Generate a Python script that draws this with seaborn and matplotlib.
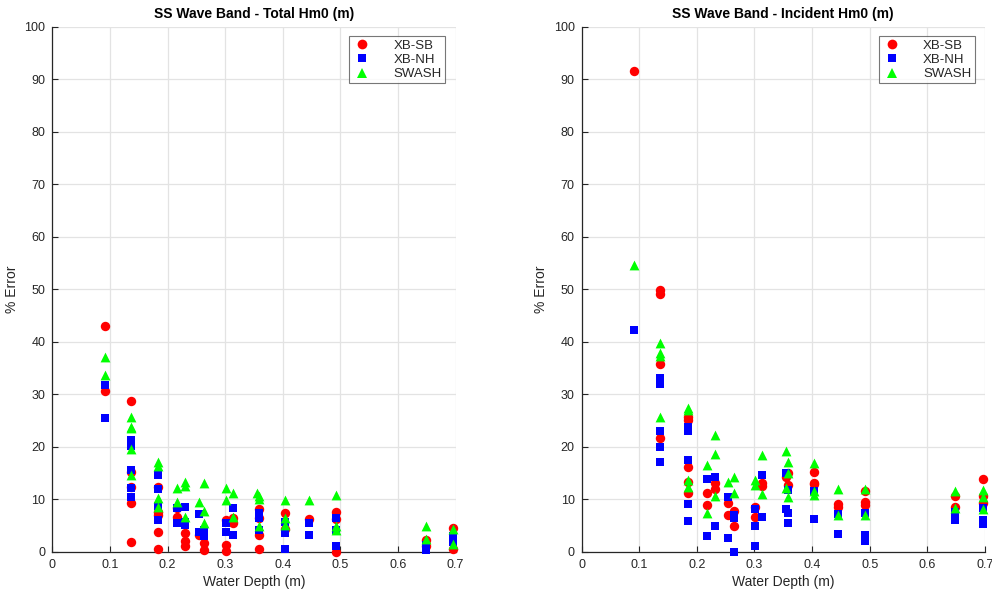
import numpy as np
import pandas as pd
import matplotlib
matplotlib.use("Agg")
import matplotlib.pyplot as plt
from matplotlib.ticker import FormatStrFormatter
from matplotlib.lines import Line2D
import seaborn as sns

# ---------------- data ----------------
series_names = ["XB-SB", "XB-NH", "SWASH"]
panel_titles = ["SS Wave Band - Total Hm0 (m)", "SS Wave Band - Incident Hm0 (m)"]

# Total Hm0
tot_sb_x = [0.091, 0.091, 0.137, 0.137, 0.137, 0.137, 0.137, 0.184, 0.184, 0.184, 0.184, 0.184,
            0.217, 0.217, 0.231, 0.231, 0.231, 0.254, 0.264, 0.264, 0.301, 0.301, 0.301,
            0.313, 0.313, 0.359, 0.359, 0.359, 0.359, 0.403, 0.403, 0.445, 0.492, 0.492, 0.492,
            0.648, 0.648, 0.696, 0.696]
tot_sb_y = [42.9, 30.7, 28.7, 15.1, 12.3, 9.3, 1.8, 12.4, 7.6, 7.0, 3.7, 0.5,
            8.3, 6.7, 3.6, 2.0, 1.0, 3.2, 1.7, 0.3, 6.0, 1.3, 0.2,
            6.4, 5.5, 8.1, 6.4, 3.2, 0.6, 7.3, 4.3, 6.2, 7.6, 6.2, 0.0,
            2.2, 1.1, 4.5, 0.5]
tot_nh_x = [0.091, 0.091, 0.137, 0.137, 0.137, 0.137, 0.137, 0.184, 0.184, 0.184, 0.184,
            0.217, 0.217, 0.231, 0.231, 0.231, 0.254, 0.254, 0.264, 0.264, 0.301, 0.301,
            0.313, 0.313, 0.359, 0.359, 0.359, 0.403, 0.403, 0.403, 0.445, 0.445,
            0.492, 0.492, 0.492, 0.648, 0.648, 0.696, 0.696]
tot_nh_y = [31.8, 25.5, 21.3, 20.2, 15.6, 12.2, 10.5, 14.7, 11.9, 8.7, 6.0,
            8.3, 5.5, 8.6, 5.7, 5.1, 7.1, 3.7, 4.1, 2.9, 5.5, 3.7,
            8.4, 3.2, 7.4, 6.4, 4.1, 5.7, 3.6, 0.6, 5.4, 3.2,
            6.5, 4.1, 1.0, 1.3, 0.3, 2.9, 1.9]
tot_sw_x = [0.091, 0.091, 0.137, 0.137, 0.137, 0.137, 0.137, 0.184, 0.184, 0.184, 0.184,
            0.217, 0.217, 0.231, 0.231, 0.231, 0.254, 0.264, 0.264, 0.264, 0.301, 0.301,
            0.313, 0.313, 0.355, 0.359, 0.359, 0.359, 0.403, 0.403, 0.403, 0.445,
            0.492, 0.492, 0.492, 0.648, 0.648, 0.696, 0.696]
tot_sw_y = [37.0, 33.7, 25.7, 23.8, 23.5, 19.5, 14.6, 17.0, 16.4, 10.2, 8.6,
            12.2, 9.5, 13.3, 12.6, 6.7, 9.5, 13.0, 7.8, 5.5, 12.1, 9.8,
            11.2, 6.7, 11.1, 10.6, 10.0, 4.8, 9.8, 6.4, 5.0, 9.8,
            10.8, 4.8, 4.1, 4.8, 2.4, 4.3, 1.5]

# Incident Hm0
inc_sb_x = [0.091, 0.137, 0.137, 0.137, 0.137, 0.184, 0.184, 0.184, 0.184, 0.184,
            0.217, 0.217, 0.231, 0.231, 0.254, 0.254, 0.264, 0.264, 0.301, 0.301,
            0.313, 0.313, 0.355, 0.359, 0.359, 0.403, 0.403, 0.403, 0.445, 0.445,
            0.492, 0.492, 0.492, 0.648, 0.648, 0.696, 0.696, 0.696]
inc_sb_y = [91.6, 49.8, 49.0, 35.7, 21.6, 25.6, 25.1, 16.2, 13.3, 11.2,
            11.2, 8.9, 13.0, 11.9, 9.2, 6.9, 7.8, 4.8, 8.6, 6.7,
            13.1, 12.5, 14.2, 15.0, 12.7, 15.2, 13.1, 12.9, 9.1, 8.6,
            11.6, 9.5, 8.9, 10.6, 8.5, 13.8, 10.6, 9.2]
inc_nh_x = [0.091, 0.137, 0.137, 0.137, 0.137, 0.137, 0.184, 0.184, 0.184, 0.184, 0.184,
            0.217, 0.217, 0.231, 0.231, 0.254, 0.254, 0.264, 0.264, 0.264,
            0.301, 0.301, 0.301, 0.313, 0.313, 0.355, 0.355, 0.359, 0.359, 0.359,
            0.403, 0.403, 0.445, 0.445, 0.492, 0.492, 0.492, 0.648, 0.648,
            0.696, 0.696, 0.696]
inc_nh_y = [42.2, 33.0, 31.9, 22.9, 20.0, 17.0, 23.8, 22.9, 17.5, 9.0, 5.9,
            13.8, 3.0, 14.3, 4.9, 10.5, 2.7, 6.9, 6.5, 0.0,
            8.1, 4.8, 1.1, 14.7, 6.7, 15.0, 8.1, 11.8, 7.4, 5.5,
            11.6, 6.2, 7.2, 3.4, 7.4, 3.2, 2.0, 7.6, 6.0,
            8.3, 6.0, 5.3]
inc_sw_x = [0.091, 0.137, 0.137, 0.137, 0.137, 0.184, 0.184, 0.184, 0.184,
            0.217, 0.217, 0.231, 0.231, 0.231, 0.254, 0.264, 0.264, 0.301, 0.301,
            0.313, 0.313, 0.355, 0.355, 0.359, 0.359, 0.359, 0.403, 0.403, 0.403,
            0.445, 0.445, 0.492, 0.492, 0.648, 0.648, 0.696, 0.696, 0.696]
inc_sw_y = [54.7, 39.7, 37.9, 37.3, 25.7, 27.4, 26.9, 13.7, 12.4,
            16.5, 7.4, 22.2, 18.7, 10.7, 13.2, 14.3, 11.1, 13.7, 12.7,
            18.4, 11.0, 19.2, 12.1, 17.1, 15.0, 10.5, 16.8, 11.5, 10.8,
            11.9, 7.0, 11.9, 7.0, 11.6, 8.3, 11.8, 10.5, 8.1]

x_ticks = [0, 0.1, 0.2, 0.3, 0.4, 0.5, 0.6, 0.7]
y_ticks = list(range(0, 101, 10))

# ---------------- build tables ----------------
def make_df(sb, nh, sw):
    rows = []
    for name, (xs, ys) in zip(series_names, [sb, nh, sw]):
        rows.append(pd.DataFrame({"depth": xs, "err": ys, "model": name}))
    return pd.concat(rows, ignore_index=True)

df_tot = make_df((tot_sb_x, tot_sb_y), (tot_nh_x, tot_nh_y), (tot_sw_x, tot_sw_y))
df_inc = make_df((inc_sb_x, inc_sb_y), (inc_nh_x, inc_nh_y), (inc_sw_x, inc_sw_y))

palette = {"XB-SB": "#ff0000", "XB-NH": "#0000ff", "SWASH": "#00ff00"}
markers = {"XB-SB": "o", "XB-NH": "s", "SWASH": "^"}
sizes_pt = {"XB-SB": 46, "XB-NH": 36, "SWASH": 50}

sns.set_style("white")
plt.rcParams["font.family"] = ["Liberation Sans", "DejaVu Sans"]

fig = plt.figure(figsize=(9.92, 5.95), dpi=100)
ax1 = fig.add_axes([0.0529, 0.0728, 0.4063, 0.8823])
ax2 = fig.add_axes([0.5862, 0.0728, 0.4068, 0.8823])

tick_col = "#262626"
for ax, df, title in [(ax1, df_tot, panel_titles[0]), (ax2, df_inc, panel_titles[1])]:
    for name in series_names:
        sub = df[df["model"] == name]
        sns.scatterplot(data=sub, x="depth", y="err", color=palette[name],
                        marker=markers[name], s=sizes_pt[name], linewidth=0,
                        ax=ax, legend=False, zorder=3, clip_on=False)
    ax.set_xlim(0, 0.7)
    ax.set_ylim(0, 100)
    ax.set_xticks(x_ticks)
    ax.set_yticks(y_ticks)
    ax.xaxis.set_major_formatter(FormatStrFormatter("%g"))
    ax.grid(True, color="#e3e3e3", linewidth=0.9)
    ax.set_axisbelow(True)
    for s in ["top", "right"]:
        ax.spines[s].set_visible(False)
    for s in ["left", "bottom"]:
        ax.spines[s].set_color(tick_col)
        ax.spines[s].set_linewidth(0.9)
    ax.tick_params(direction="in", length=4, width=0.8, colors=tick_col,
                   labelsize=9, pad=5, left=True, bottom=True)
    ax.set_xlabel("Water Depth (m)", fontsize=10, color=tick_col, labelpad=3)
    ax.set_ylabel("% Error", fontsize=10, color=tick_col, labelpad=4)
    ax.set_title(title, fontsize=10, fontweight="bold", color="black", pad=6)

    handles = [Line2D([], [], linestyle="none", marker=markers[n], color=palette[n],
                      markersize=7 if n != "XB-NH" else 6.2, markeredgewidth=0)
               for n in series_names]
    leg = ax.legend(handles, series_names, loc="upper right", fontsize=9.5,
                    frameon=True, fancybox=False, edgecolor="#555555",
                    borderpad=0.25, labelspacing=0.15, handletextpad=1.6,
                    handlelength=1.5, borderaxespad=0.0,
                    bbox_to_anchor=(0.974, 0.982))
    leg.get_frame().set_linewidth(0.8)
    for t in leg.get_texts():
        t.set_color(tick_col)

fig.savefig("out.png", dpi=100)
